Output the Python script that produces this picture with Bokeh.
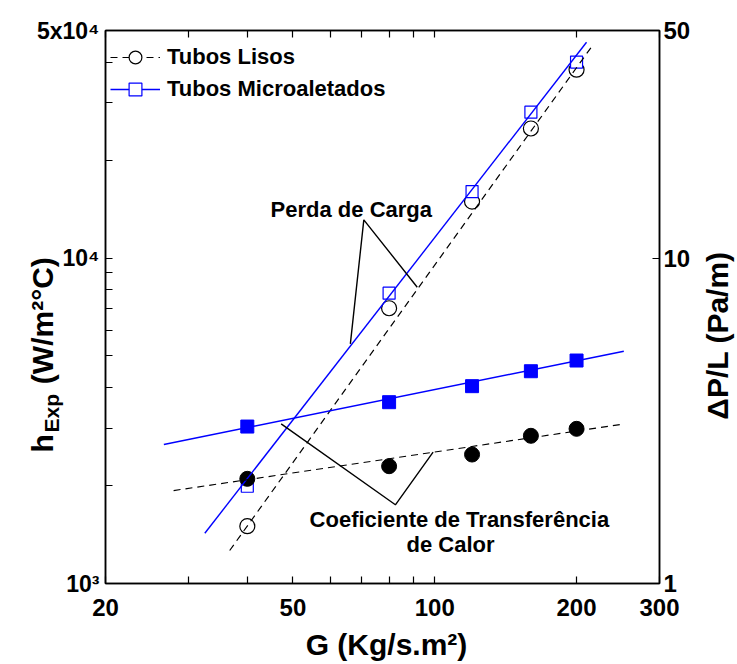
import math
from bokeh.plotting import figure
from bokeh.models import Range1d, LogScale, LogAxis, FixedTicker, Label, Legend, LegendItem
from bokeh.embed import file_html
from bokeh.resources import INLINE

# ---------------- data ----------------
G = [40, 80, 120, 160, 200]
h_lisos = [2097, 2293, 2490, 2843, 2987]
h_micro = [3035, 3606, 4039, 4489, 4842]
dp_lisos = [1.50, 7.01, 14.9, 25.0, 37.9]
dp_micro = [1.99, 7.80, 16.0, 28.05, 40.0]

fit_h_lisos_G = [27.9, 251]
fit_h_lisos = [1930, 3086]
fit_h_micro_G = [26.6, 252]
fit_h_micro = [2673, 5172]
fit_dp_lisos_G = [36.7, 217]
fit_dp_lisos = [1.263, 45.3]
fit_dp_micro_G = [32.5, 210]
fit_dp_micro = [1.427, 46.0]

perda_G = [66.2, 70.7, 91.8]
perda_h = [5450, 13100, 8133]
coef_G = [47.2, 82.5, 99.2]
coef_h = [3094, 1745, 2532]

x_ticks = [20, 30, 40, 50, 60, 70, 80, 90, 100, 200, 300]
x_tick_text = {20: "20", 50: "50", 100: "100", 200: "200", 300: "300"}
y_ticks = [1000, 2000, 3000, 4000, 5000, 6000, 7000, 8000, 9000,
           10000, 20000, 30000, 40000, 50000]
y_tick_text = {1000: "10³", 10000: "10⁴"}
y_top_text = "5x10⁴"
dp_ticks = [1, 10, 50]
dp_tick_text = {1: "1", 10: "10", 50: "50"}

FONT = "Liberation Sans"
BLUE = "#0000FF"

p = figure(width=737, height=664, x_axis_type="log", y_axis_type="log",
           x_range=Range1d(20, 300), y_range=Range1d(1000, 50000),
           output_backend="svg", toolbar_location=None,
           min_border_left=105, min_border_right=78,
           min_border_top=30, min_border_bottom=81)
p.extra_y_ranges = {"dp": Range1d(1, 50)}
p.extra_y_scales = {"dp": LogScale()}

p.grid.visible = False
p.outline_line_color = "black"
p.outline_line_width = 1.5
p.background_fill_color = "white"
p.border_fill_color = "white"

# axes
xa = p.xaxis[0]
xa.ticker = FixedTicker(ticks=x_ticks, minor_ticks=[])
xa.major_label_overrides = {t: x_tick_text.get(t, "") for t in x_ticks}
ya = p.yaxis[0]
ya.ticker = FixedTicker(ticks=y_ticks, minor_ticks=[])
ya.major_label_overrides = {t: y_tick_text.get(t, "") for t in y_ticks}

top = LogAxis(ticker=FixedTicker(ticks=x_ticks, minor_ticks=[]))
top.major_label_overrides = {t: "" for t in x_ticks}
p.add_layout(top, "above")

right = LogAxis(y_range_name="dp", ticker=FixedTicker(ticks=dp_ticks, minor_ticks=[]))
right.major_label_overrides = dp_tick_text
p.add_layout(right, "right")

for ax in [xa, ya, top, right]:
    ax.axis_line_color = "black"
    ax.axis_line_width = 1.5
    ax.major_tick_in = 7
    ax.major_tick_out = 0
    ax.minor_tick_in = 0
    ax.minor_tick_out = 0
    ax.major_tick_line_color = "black"
    ax.major_tick_line_width = 1.2
    ax.major_label_text_font = FONT
    ax.major_label_text_font_style = "bold"
    ax.major_label_text_color = "black"

xa.major_label_text_font_size = "24px"
xa.major_label_standoff = 15
ya.major_label_text_font_size = "23px"
ya.major_label_standoff = 6
right.major_label_text_font_size = "24px"
right.major_label_standoff = 4
top.major_label_text_font_size = "1px"
top.major_label_standoff = 0

# markers
s_ol = p.scatter(G, dp_lisos, y_range_name="dp", marker="circle", size=15,
                 fill_color="white", line_color="black", line_width=1.2)
s_om = p.scatter(G, dp_micro, y_range_name="dp", marker="square", size=12,
                 fill_color="white", line_color=BLUE, line_width=1.2)
p.scatter(G, h_lisos, marker="circle", size=15, fill_color="black", line_color="black")
p.scatter(G, h_micro, marker="square", size=13, fill_color=BLUE, line_color=BLUE)

# fit lines
l_dl = p.line(fit_dp_lisos_G, fit_dp_lisos, y_range_name="dp", line_color="black",
              line_width=1.2, line_dash="7 5")
l_dm = p.line(fit_dp_micro_G, fit_dp_micro, y_range_name="dp", line_color=BLUE,
              line_width=1.4)
p.line(fit_h_lisos_G, fit_h_lisos, line_color="black", line_width=1.2, line_dash="7 5")
p.line(fit_h_micro_G, fit_h_micro, line_color=BLUE, line_width=1.4)

# annotation leaders
p.line(perda_G, perda_h, line_color="black", line_width=1.4)
p.line(coef_G, coef_h, line_color="black", line_width=1.4)

# legend
legend = Legend(items=[LegendItem(label="Tubos Lisos", renderers=[l_dl, s_ol]),
                       LegendItem(label="Tubos Microaletados", renderers=[l_dm, s_om])],
                location=(5, 478), padding=0, spacing=0, margin=0,
                glyph_width=50, glyph_height=32, label_height=32, label_standoff=7,
                border_line_color=None, background_fill_alpha=0,
                label_text_font=FONT, label_text_font_style="bold",
                label_text_font_size="22px", label_text_color="black")
p.add_layout(legend)


def lab(text, x, y, size, xo=0, yo=0, align="left", base="middle", angle=0.0,
        side="center"):
    p.add_layout(Label(x=x, y=y, x_offset=xo, y_offset=yo, text=text,
                       text_font=FONT, text_font_style="bold",
                       text_font_size=f"{size}px", text_color="black",
                       text_align=align, text_baseline=base, angle=angle), side)


A = math.pi / 2

# in-plot texts
lab("Perda de Carga", 66.5, 14140, 22, align="center")
lab("Coeficiente de Transferência", 112.8, 1573, 22, align="center")
lab("de Calor", 108, 1318, 22, align="center")

# top-left tick label (top panel)
lab(y_top_text, 20, 50000, 23, xo=-6, yo=0, align="right", side="above")

# x axis title (bottom panel)
lab("G (Kg/s.m²)", 20, 1000, 30, xo=281, yo=-61, align="center", side="below")

# left axis title + subscript (left panel)
NB = "\u00a0"
lab("h" + NB * 6 + "(W/m²°C)", 20, 1000, 30, xo=-63, yo=131, align="left",
    angle=A, side="left")
lab("Exp", 20, 1000, 21, xo=-54, yo=151, align="left", angle=A, side="left")

# right axis title (right panel)
lab("ΔP/L (Pa/m)", 20, 1000, 30, xo=612, yo=248, align="center", angle=A,
    side="right")

open("out.html", "w").write(file_html(p, INLINE))
